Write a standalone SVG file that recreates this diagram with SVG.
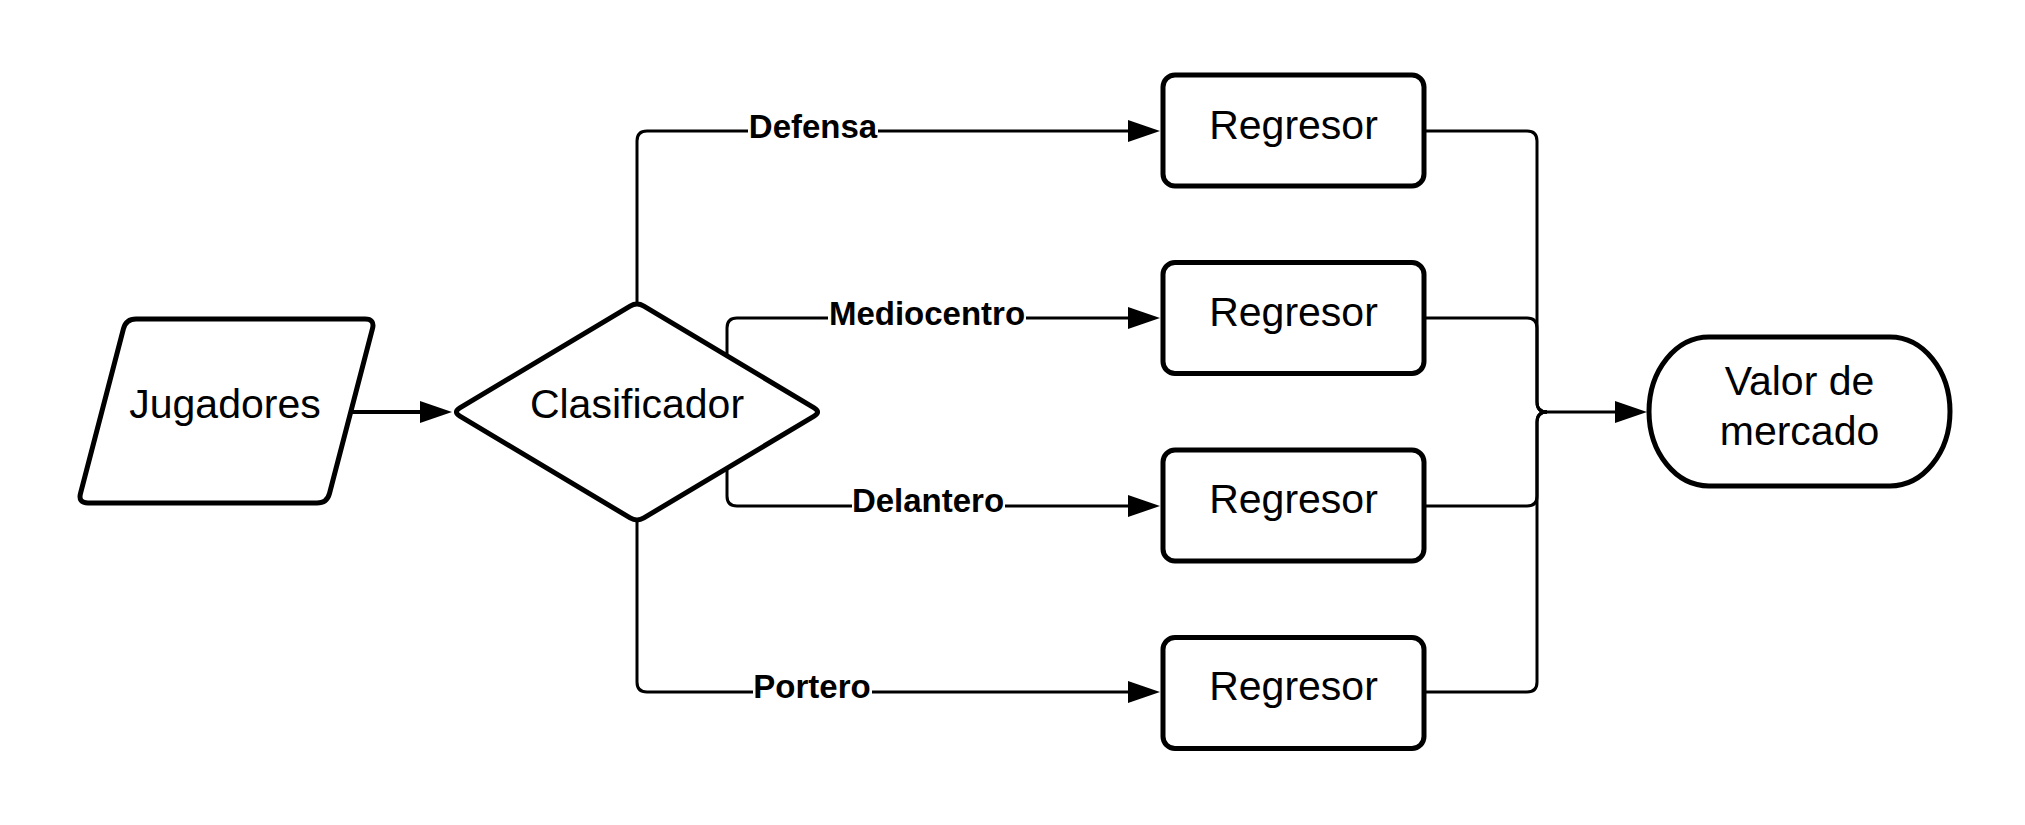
<svg xmlns="http://www.w3.org/2000/svg" width="2025" height="825" viewBox="0 0 2025 825">
<defs>
<style>
.node{fill:#fff;stroke:#000;stroke-width:5;stroke-linejoin:round}
.conn{fill:none;stroke:#000;stroke-width:3}
.thick{stroke-width:4}
.nt{font-family:"Liberation Sans",Arial,sans-serif;font-size:41px;fill:#000;text-anchor:middle}
.lt{font-family:"Liberation Sans",Arial,sans-serif;font-size:33px;font-weight:bold;fill:#000;text-anchor:middle}
.lbg{fill:#fff;stroke:none}
</style>
<marker id="ah" markerWidth="34" markerHeight="24" refX="12" refY="11" orient="auto" markerUnits="userSpaceOnUse">
<path d="M0,0 L32,11 L0,22 Z" fill="#000"/>
</marker>
</defs>
<rect width="2025" height="825" fill="#fff"/>

<g id="connectors">
<path class="conn thick" d="M352,412 H432" marker-end="url(#ah)"/>
<path class="conn" d="M637,304 V141 Q637,131 647,131 H1140" marker-end="url(#ah)"/>
<path class="conn" d="M727,356 V328 Q727,318 737,318 H1140" marker-end="url(#ah)"/>
<path class="conn" d="M727,468 V496 Q727,506 737,506 H1140" marker-end="url(#ah)"/>
<path class="conn" d="M637,520 V682 Q637,692 647,692 H1140" marker-end="url(#ah)"/>
<path class="conn" d="M1426,131 H1527 Q1537,131 1537,141 V402 Q1537,412 1547,412"/>
<path class="conn" d="M1426,318 H1527 Q1537,318 1537,328 V402 Q1537,412 1547,412"/>
<path class="conn" d="M1426,506 H1527 Q1537,506 1537,496 V422 Q1537,412 1547,412"/>
<path class="conn" d="M1426,692 H1527 Q1537,692 1537,682 V422 Q1537,412 1547,412"/>
<path class="conn" d="M1545,412 H1627" marker-end="url(#ah)"/>
<g id="label-defensa">
<rect class="lbg" x="748" y="114" width="130" height="34"/>
<text class="lt" x="813" y="138">Defensa</text>
</g>
<g id="label-mediocentro">
<rect class="lbg" x="828" y="301" width="198" height="34"/>
<text class="lt" x="927" y="325">Mediocentro</text>
</g>
<g id="label-delantero">
<rect class="lbg" x="852" y="489" width="153" height="34"/>
<text class="lt" x="928" y="512">Delantero</text>
</g>
<g id="label-portero">
<rect class="lbg" x="753" y="675" width="119" height="34"/>
<text class="lt" x="812" y="698">Portero</text>
</g>
</g>

<g id="jugadores">
<path class="node" d="M136,319 L365,319 Q375,319 372.48,328.67 L329.52,493.33 Q327,503 317,503 L88,503 Q78,503 80.52,493.33 L123.48,328.67 Q126,319 136,319 Z"/>
<text class="nt" x="225" y="418">Jugadores</text>
</g>

<g id="clasificador">
<path class="node" d="M459.87,407.9 L630.13,306.1 Q637,302 643.87,306.1 L814.13,407.9 Q821,412 814.13,416.1 L643.87,517.9 Q637,522 630.13,517.9 L459.87,416.1 Q453,412 459.87,407.9 Z"/>
<text class="nt" x="637" y="418">Clasificador</text>
</g>

<g id="regresor-1">
<rect class="node" x="1163" y="75" width="261" height="111" rx="12"/>
<text class="nt" x="1293.5" y="139">Regresor</text>
</g>
<g id="regresor-2">
<rect class="node" x="1163" y="262.5" width="261" height="111" rx="12"/>
<text class="nt" x="1293.5" y="326">Regresor</text>
</g>
<g id="regresor-3">
<rect class="node" x="1163" y="450" width="261" height="111" rx="12"/>
<text class="nt" x="1293.5" y="513">Regresor</text>
</g>
<g id="regresor-4">
<rect class="node" x="1163" y="637.5" width="261" height="111" rx="12"/>
<text class="nt" x="1293.5" y="700">Regresor</text>
</g>

<g id="valor-de-mercado">
<rect class="node" x="1649" y="337" width="301" height="149" rx="60" ry="74.5"/>
<text class="nt" x="1799.5" y="395">Valor de</text>
<text class="nt" x="1799.5" y="445">mercado</text>
</g>
</svg>
